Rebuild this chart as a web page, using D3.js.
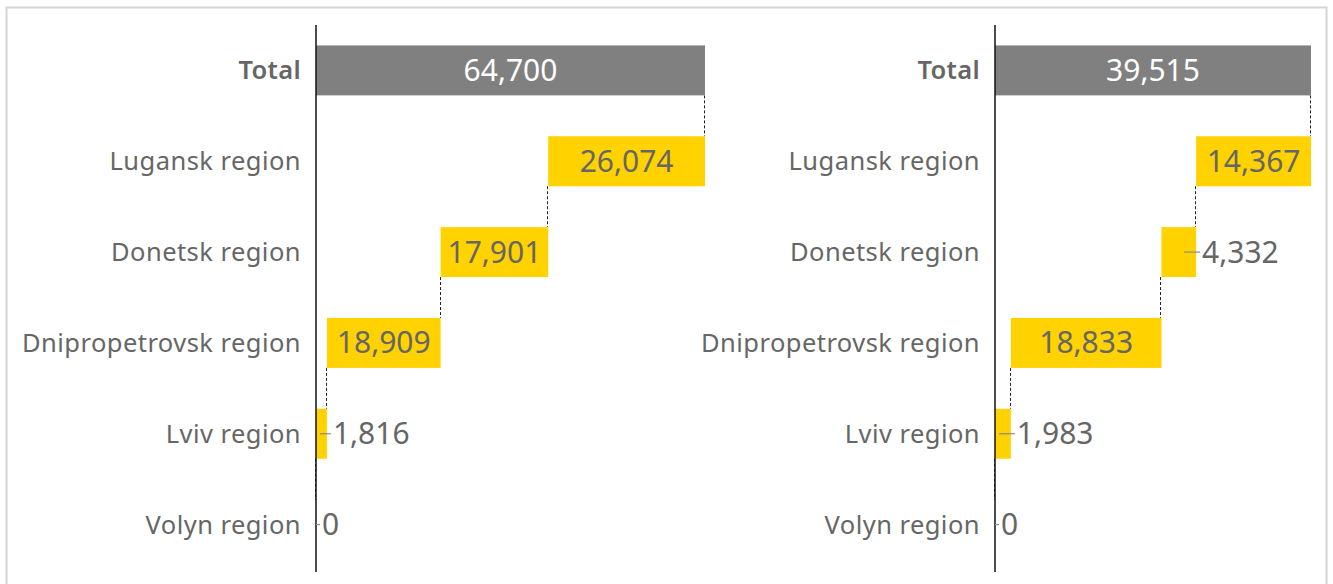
<!DOCTYPE html>
<html><head><meta charset="utf-8">
<script src="https://cdn.jsdelivr.net/npm/d3@7/dist/d3.min.js"></script>
<style>html,body{margin:0;padding:0;background:#fff;}svg{display:block;}</style>
</head><body>
<svg id="chart" width="1333" height="584"></svg>
<script>
const categories = ["Total", "Lugansk region", "Donetsk region", "Dnipropetrovsk region", "Lviv region", "Volyn region"];
const leftValues = [64700, 26074, 17901, 18909, 1816, 0];
const rightValues = [39515, 14367, 4332, 18833, 1983, 0];

const svg = d3.select("#chart");
const FONT = "'Noto Sans', 'Open Sans', sans-serif";
const TEXT = "#666666", YELLOW = "#FFD200", GREY = "#808080";

svg.append("rect").attr("x", 6.5).attr("y", 7.5).attr("width", 1320).attr("height", 600)
  .attr("fill", "none").attr("stroke", "#d4d4d4").attr("stroke-width", 2);

const y = d3.scaleBand().domain(categories).range([25, 570]).paddingInner(0.45).paddingOuter(0.225);

function panel(values, x0, x1) {
  const total = values[0];
  const x = d3.scaleLinear().domain([0, total]).range([x0, x1]);
  let remaining = total;
  const segs = categories.map((c, i) => {
    if (i === 0) return {cat: c, v: values[i], start: 0, end: total, total: true};
    const s = {cat: c, v: values[i], start: remaining - values[i], end: remaining, total: false};
    remaining -= values[i];
    return s;
  });
  const g = svg.append("g");
  for (let i = 0; i < segs.length - 1; i++) {
    const cx = Math.round(x(segs[i + 1].end)) - 0.5;
    g.append("line").attr("x1", cx).attr("x2", cx)
      .attr("y1", y(segs[i].cat) + y.bandwidth()).attr("y2", y(segs[i + 1].cat))
      .attr("stroke", "#222").attr("stroke-width", 1).attr("stroke-dasharray", "3,2");
  }
  g.selectAll("rect.bar").data(segs).join("rect").attr("class", "bar")
    .attr("x", d => x(d.start)).attr("width", d => x(d.end) - x(d.start))
    .attr("y", d => y(d.cat)).attr("height", y.bandwidth())
    .attr("fill", d => d.total ? GREY : YELLOW);
  g.append("line").attr("x1", x0).attr("x2", x0).attr("y1", 25).attr("y2", 572)
    .attr("stroke", "#111").attr("stroke-width", 1.5);
  g.selectAll("text.cat").data(segs).join("text").attr("class", "cat")
    .attr("x", x0 - 15).attr("y", d => y(d.cat) + y.bandwidth() / 2 - 1)
    .attr("text-anchor", "end").attr("dominant-baseline", "central")
    .attr("font-family", FONT).attr("font-size", 25.5)
    .attr("letter-spacing", d => d.total ? 0.3 : 0.45)
    .attr("font-weight", d => d.total ? 600 : 400)
    .attr("fill", TEXT).text(d => d.cat);
  const fmt = d3.format(",");
  segs.forEach(d => {
    const cy = y(d.cat) + y.bandwidth() / 2;
    const xs = x(d.start), xe = x(d.end);
    const t = g.append("text").attr("y", cy - 1).attr("dominant-baseline", "central")
      .attr("font-family", FONT).attr("font-size", 30)
      .attr("fill", d.total ? "#fff" : TEXT).text(fmt(d.v));
    const w = t.node().getComputedTextLength();
    if (xe - xs > w) {
      t.attr("x", (xs + xe) / 2).attr("text-anchor", "middle");
    } else {
      t.attr("x", xe + 6).attr("text-anchor", "start");
      g.append("line").attr("x1", Math.min(Math.max(xs + 4, xe - 12), xe)).attr("x2", xe + 4)
        .attr("y1", cy).attr("y2", cy).attr("stroke", "#8a8a8a").attr("stroke-width", 1.2);
    }
  });
}

panel(leftValues, 316, 705);
panel(rightValues, 995, 1311);
</script>
</body></html>
